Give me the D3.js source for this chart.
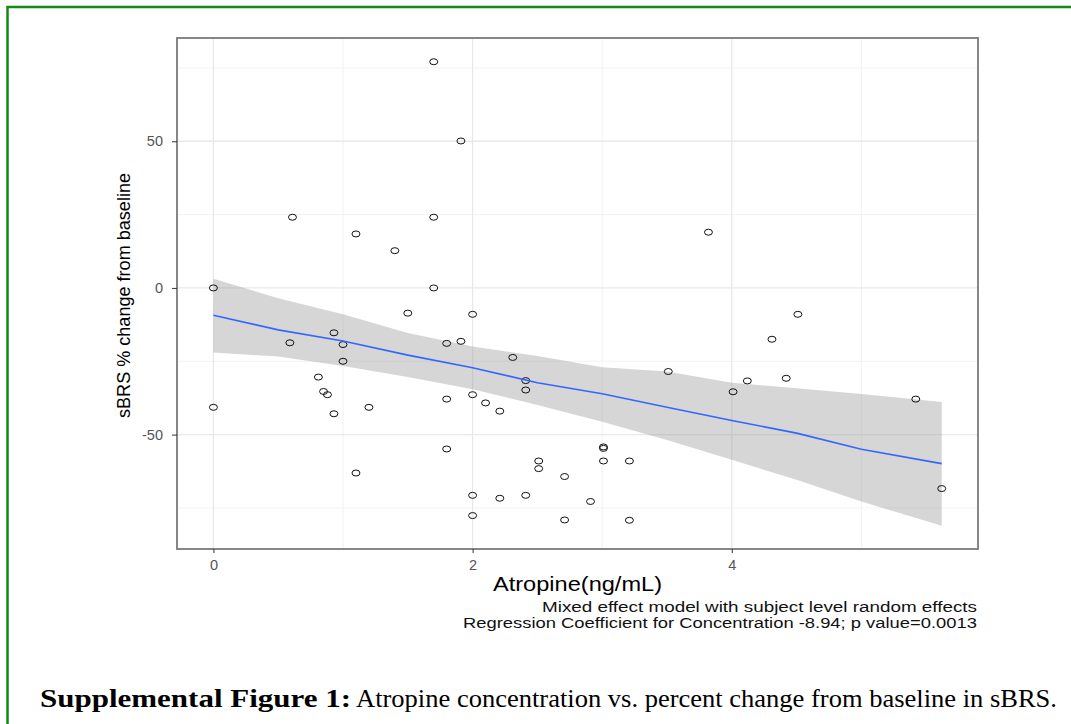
<!DOCTYPE html>
<html>
<head>
<meta charset="utf-8">
<script src="https://cdn.jsdelivr.net/npm/d3@7"></script>
<style>
  body { margin: 0; background: #fff; }
  svg { display: block; }
</style>
</head>
<body>
<div id="chart"></div>
<script>
// Data
var concX = [1.70, 1.91, 0.61, 1.70, 1.10, 1.40, 0, 1.70,
    1.50, 2.00, 0.93, 0.59, 1.00, 1.80, 1.91, 1.00, 2.31, 0.81, 2.41, 2.41,
    0.85, 0.88, 0, 0.93, 1.20, 1.80, 2.00, 2.10, 2.21, 1.80, 1.10, 2.51, 2.51,
    2.71, 2.00, 2.21, 2.41, 2.00, 2.71, 2.91,
    3.82, 4.51, 4.31, 3.51, 4.12, 4.42, 4.01, 5.42, 5.62, 3.01, 3.01, 3.01, 3.21, 3.21];
var sbrsChange = [77.1, 50.1, 24.1, 24.1, 18.4, 12.7, 0, 0,
    -8.6, -9.0, -15.3, -18.7, -19.3, -18.9, -18.2, -25.0, -23.7, -30.4, -31.6, -34.8,
    -35.3, -36.4, -40.7, -42.9, -40.7, -37.9, -36.4, -39.2, -42.0, -54.9, -63.1, -59.0, -61.6,
    -64.3, -70.7, -71.7, -70.7, -77.6, -79.1, -72.8,
    19.0, -9.0, -17.5, -28.5, -31.7, -30.8, -35.4, -37.9, -68.4, -54.2, -54.7, -59.0, -59.0, -79.2];

// fitted line and confidence band
var fitX     = [0, 0.5, 1, 1.5, 2, 2.5, 3, 3.5, 4, 4.5, 5, 5.62];
var fitY     = [-9.3, -14.3, -18.1, -22.9, -27.2, -32.3, -36.1, -40.7, -45.2, -49.5, -55.0, -59.9];
var fitUpper = [3.1, -3.5, -9.0, -15.4, -20.0, -23.2, -27.0, -28.5, -32.3, -34.2, -36.2, -38.9];
var fitLower = [-22.0, -23.4, -26.6, -30.4, -34.5, -39.9, -45.6, -51.8, -58.6, -65.4, -72.8, -81.1];

var xMajor = [0, 2, 4];
var xMinor = [1, 3, 5];
var yMajor = [-50, 0, 50];
var yMinor = [-75, -25, 25, 75];

var svgWidth = 1071;
var svgHeight = 724;

var panel = { left: 177, top: 38, right: 978, bottom: 549 };
var sansFont = "'Liberation Sans', Arial, sans-serif";
var serifFont = "'Liberation Serif', 'DejaVu Serif', serif";

var svg = d3.select("#chart")
    .append("svg")
    .attr("width", svgWidth)
    .attr("height", svgHeight);

// green frame round the figure
svg.append("rect")
    .attr("x", 7.5)
    .attr("y", 7)
    .attr("width", 1080)
    .attr("height", 740)
    .attr("fill", "none")
    .attr("stroke", "#128a12")
    .attr("stroke-width", 2.5);

var xScale = d3.scaleLinear()
    .domain([-0.281, 5.9])
    .range([panel.left, panel.right]);

var yScale = d3.scaleLinear()
    .domain([-89, 85.2])
    .range([panel.bottom, panel.top]);

// grid
var grid = svg.append("g");
grid.selectAll(".vminor").data(xMinor).enter().append("line")
    .attr("x1", d => xScale(d)).attr("x2", d => xScale(d))
    .attr("y1", panel.top).attr("y2", panel.bottom)
    .attr("stroke", "#f2f2f2").attr("stroke-width", 1);
grid.selectAll(".hminor").data(yMinor).enter().append("line")
    .attr("y1", d => yScale(d)).attr("y2", d => yScale(d))
    .attr("x1", panel.left).attr("x2", panel.right)
    .attr("stroke", "#f2f2f2").attr("stroke-width", 1);
grid.selectAll(".vmajor").data(xMajor).enter().append("line")
    .attr("x1", d => xScale(d)).attr("x2", d => xScale(d))
    .attr("y1", panel.top).attr("y2", panel.bottom)
    .attr("stroke", "#e8e8e8").attr("stroke-width", 1.3);
grid.selectAll(".hmajor").data(yMajor).enter().append("line")
    .attr("y1", d => yScale(d)).attr("y2", d => yScale(d))
    .attr("x1", panel.left).attr("x2", panel.right)
    .attr("stroke", "#e8e8e8").attr("stroke-width", 1.3);

// confidence ribbon
var bandData = fitX.map((x, i) => ({ x: x, lo: fitLower[i], hi: fitUpper[i], y: fitY[i] }));

svg.append("path")
    .datum(bandData)
    .attr("d", d3.area()
        .x(d => xScale(d.x))
        .y0(d => yScale(d.lo))
        .y1(d => yScale(d.hi)))
    .attr("fill", "#999999")
    .attr("fill-opacity", 0.4);

// points
svg.append("g").selectAll("ellipse")
    .data(concX.map((x, i) => ({ x: x, y: sbrsChange[i] })))
    .enter()
    .append("ellipse")
    .attr("cx", d => xScale(d.x))
    .attr("cy", d => yScale(d.y))
    .attr("rx", 4)
    .attr("ry", 3)
    .attr("fill", "none")
    .attr("stroke", "#111")
    .attr("stroke-width", 1);

// fitted line
svg.append("path")
    .datum(bandData)
    .attr("d", d3.line().x(d => xScale(d.x)).y(d => yScale(d.y)))
    .attr("fill", "none")
    .attr("stroke", "#3366ff")
    .attr("stroke-width", 1.6);

// panel border
svg.append("rect")
    .attr("x", panel.left)
    .attr("y", panel.top)
    .attr("width", panel.right - panel.left)
    .attr("height", panel.bottom - panel.top)
    .attr("fill", "none")
    .attr("stroke", "#7a7a7a")
    .attr("stroke-width", 1.8);

// axes
var bottomAxis = d3.axisBottom(xScale).tickValues(xMajor)
    .tickFormat(d => String(d)).tickSize(4).tickPadding(7);
var leftAxis = d3.axisLeft(yScale).tickValues(yMajor)
    .tickFormat(d => String(d)).tickSize(5).tickPadding(9);

var xAxis = svg.append("g")
    .attr("transform", `translate(0, ${panel.bottom})`)
    .call(bottomAxis);
var yAxis = svg.append("g")
    .attr("transform", `translate(${panel.left}, 0)`)
    .call(leftAxis);

[xAxis, yAxis].forEach(function(ax) {
    ax.select(".domain").remove();
    ax.selectAll(".tick line").attr("stroke", "#333").attr("stroke-width", 1);
    ax.selectAll(".tick text")
        .attr("fill", "#555")
        .style("font-family", sansFont)
        .style("font-size", "14.5px");
});

// axis titles
svg.append("text")
    .attr("x", 493)
    .attr("y", 591)
    .attr("textLength", 169)
    .attr("lengthAdjust", "spacingAndGlyphs")
    .style("font-family", sansFont)
    .style("font-size", "20px")
    .attr("fill", "#000")
    .text("Atropine(ng/mL)");

svg.append("text")
    .attr("transform", "rotate(-90)")
    .attr("x", -418)
    .attr("y", 130)
    .attr("textLength", 245)
    .attr("lengthAdjust", "spacingAndGlyphs")
    .style("font-family", sansFont)
    .style("font-size", "17.5px")
    .attr("fill", "#000")
    .text("sBRS % change from baseline");

// caption under the x axis
var notes = ["Mixed effect model with subject level random effects",
    "Regression Coefficient for Concentration -8.94; p value=0.0013"];
var noteWidths = [435, 514];
svg.selectAll(".note").data(notes).enter().append("text")
    .attr("x", (d, i) => 977 - noteWidths[i])
    .attr("y", (d, i) => 612 + i * 16)
    .attr("textLength", (d, i) => noteWidths[i])
    .attr("lengthAdjust", "spacingAndGlyphs")
    .style("font-family", sansFont)
    .style("font-size", "14px")
    .attr("fill", "#111")
    .text(d => d);

// figure caption
svg.append("text")
    .attr("x", 40)
    .attr("y", 707)
    .attr("textLength", 311)
    .attr("lengthAdjust", "spacingAndGlyphs")
    .style("font-family", serifFont)
    .style("font-size", "25px")
    .style("font-weight", "bold")
    .attr("fill", "#000")
    .text("Supplemental Figure 1:");

svg.append("text")
    .attr("x", 356)
    .attr("y", 707)
    .attr("textLength", 701)
    .attr("lengthAdjust", "spacingAndGlyphs")
    .style("font-family", serifFont)
    .style("font-size", "25px")
    .attr("fill", "#000")
    .text("Atropine concentration vs. percent change from baseline in sBRS.");
</script>
</body>
</html>
